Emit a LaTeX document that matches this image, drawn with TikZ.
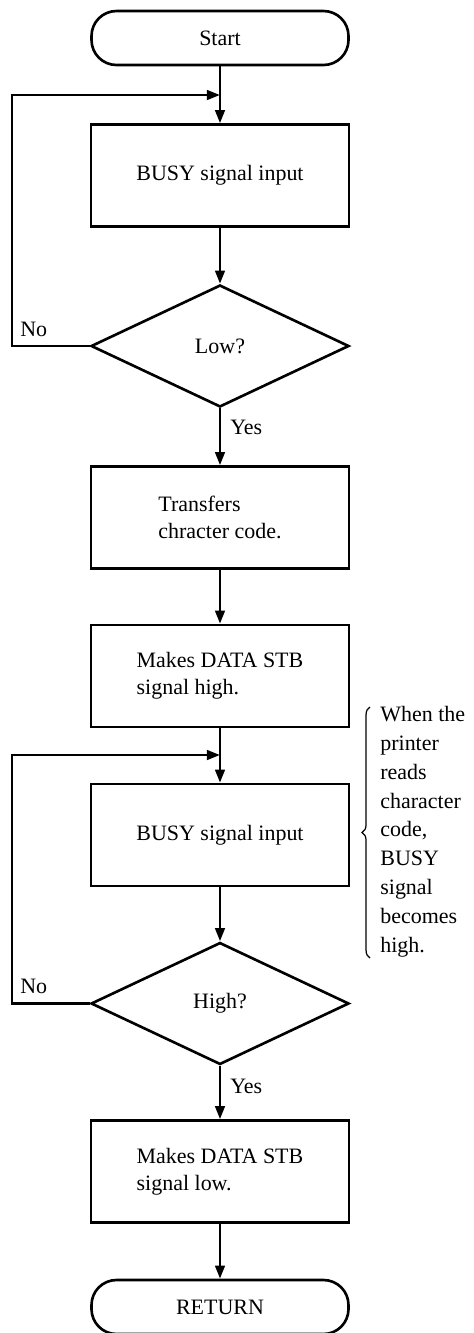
\documentclass[tikz,border=0pt]{standalone}
\usepackage{fontspec}
\setmainfont{Liberation Serif}
\usetikzlibrary{positioning,calc}
\usetikzlibrary{arrows.meta,shapes.geometric,decorations.pathreplacing}
\tikzset{
  term/.style={draw=black,line width=1.5pt,rounded corners=0.5cm,minimum width=5.14cm,
    minimum height=1.08cm,font=\fontsize{12.5}{15}\selectfont},
  proc/.style={draw=black,line width=1.5pt,minimum width=5.16cm,minimum height=2.04cm,
    align=left,font=\fontsize{12.5}{15.3}\selectfont},
  dec/.style={diamond,draw=black,line width=1.5pt,minimum width=5.16cm,minimum height=2.44cm,
    inner sep=0pt,font=\fontsize{12.5}{15}\selectfont},
  flow/.style={draw=black,line width=1.5pt,-{Triangle[length=7.5pt,width=5.5pt]}},
  tag/.style={inner sep=0pt,font=\fontsize{12.5}{15}\selectfont},
  memo/.style={inner sep=0pt,align=left,font=\fontsize{12.5}{16.4}\selectfont},
}
\begin{document}
\begin{tikzpicture}
\useasboundingbox (0,0) rectangle (9.46,-26.66);
\node[term] (start) at (4.40,-0.76) {Start};
\node[proc] (busyA) at (4.40,-3.51) {BUSY signal input};
\node[dec] (low) at (4.40,-6.92) {Low?};
\node[proc] (xfer) at (4.40,-10.35) {Transfers\\chracter code.};
\node[proc] (stbhi) at (4.40,-13.52) {Makes DATA STB\\signal high.};
\node[proc] (busyB) at (4.40,-16.70) {BUSY signal input};
\node[dec] (high) at (4.40,-20.07) {High?};
\node[proc] (stblo) at (4.40,-23.43) {Makes DATA STB\\signal low.};
\node[term] (ret) at (4.40,-26.14) {RETURN};
\coordinate (loopA) at (0.24,-1.90);
\coordinate (turnA) at (0.24,-6.92);
\coordinate (loopB) at (0.24,-15.10);
\coordinate (turnB) at (0.24,-20.07);
\coordinate (braceB) at (7.40,-19.16);
\coordinate (braceT) at (7.40,-14.14);
\draw[flow] (start) -- (busyA);
\draw[flow] (busyA) -- (low);
\draw[flow] (low) -- node[tag,pos=0.33,right=0.18cm] (yesA) {Yes} (xfer);
\draw[flow] (low.west) -- (turnA) -- (loopA) -- (loopA -| start.south);
\draw[flow] (xfer) -- (stbhi);
\draw[flow] (stbhi) -- (busyB);
\draw[flow] (busyB) -- (high);
\draw[flow] (high) -- node[tag,pos=0.38,right=0.18cm] (yesB) {Yes} (stblo);
\draw[flow] (high.west) -- (turnB) -- (loopB) -- (loopB -| stbhi.south);
\draw[flow] (stblo) -- (ret);
\node[tag,above right=0.18cm and 0.16cm of turnA] (noA) {No};
\node[tag,above right=0.18cm and 0.16cm of turnB] (noB) {No};
\draw[decorate,decoration={brace,amplitude=4.5pt},line width=0.7pt] (braceB) -- (braceT);
\node[memo,anchor=north west] (note) at (7.60,-14.12) {When the\\printer\\reads\\character\\code,\\BUSY\\signal\\becomes\\high.};
\end{tikzpicture}
\end{document}
